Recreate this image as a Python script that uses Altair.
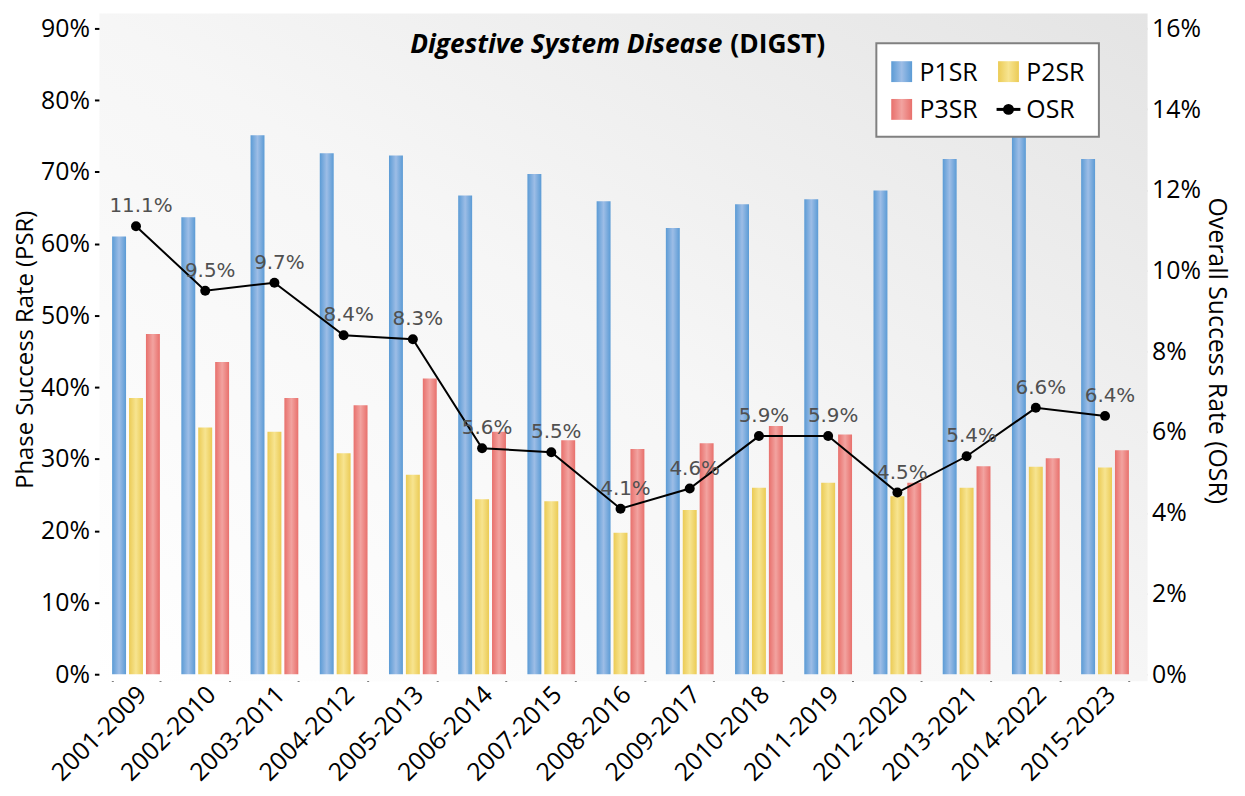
import altair as alt
import pandas as pd

periods = ["2001-2009", "2002-2010", "2003-2011", "2004-2012", "2005-2013",
           "2006-2014", "2007-2015", "2008-2016", "2009-2017", "2010-2018",
           "2011-2019", "2012-2020", "2013-2021", "2014-2022", "2015-2023"]
p1sr = [61.0, 63.7, 75.1, 72.6, 72.3, 66.7, 69.7, 65.9, 62.2, 65.5, 66.2, 67.4, 71.8, 75.5, 71.8]
p2sr = [38.5, 34.4, 33.8, 30.8, 27.8, 24.4, 24.1, 19.7, 22.9, 26.0, 26.7, 24.8, 26.0, 28.9, 28.8]
p3sr = [47.4, 43.5, 38.5, 37.5, 41.2, 33.8, 32.6, 31.4, 32.2, 34.6, 33.4, 26.7, 29.0, 30.1, 31.2]
osr = [11.1, 9.5, 9.7, 8.4, 8.3, 5.6, 5.5, 4.1, 4.6, 5.9, 5.9, 4.5, 5.4, 6.6, 6.4]
series = ["P1SR", "P2SR", "P3SR"]
legend_labels = ["P1SR", "P2SR", "P3SR", "OSR"]
psr_ticks = [0, 10, 20, 30, 40, 50, 60, 70, 80, 90]
osr_ticks = [0, 2, 4, 6, 8, 10, 12, 14, 16]

PAD_TOP = 18
OX, OY = 102, 8 + PAD_TOP          # absolute position of the plot origin
W, H = 1045, 676 - OY
FONT = "Open Sans"

bar_df = pd.DataFrame({
    "period": periods * 3,
    "series": [s for s in series for _ in periods],
    "value": p1sr + p2sr + p3sr,
})
osr_df = pd.DataFrame({"period": periods, "osr": osr,
                       "label": [f"{v:.1f}%" for v in osr]})


def grad(dark, light):
    return alt.Gradient(gradient="linear", x1=0, x2=1, y1=0, y2=0,
                        stops=[alt.GradientStop(color=dark, offset=0),
                               alt.GradientStop(color=light, offset=0.5),
                               alt.GradientStop(color=dark, offset=1)])


fills = {
    "P1SR": grad("#5b9bd5", "#9dbde6"),
    "P2SR": grad("#ebcb55", "#f7e490"),
    "P3SR": grad("#e8706c", "#f2a3a0"),
}

x_enc = alt.X("period:N", sort=periods,
              scale=alt.Scale(paddingInner=0.31, paddingOuter=0.155),
              axis=alt.Axis(title=None, labelAngle=-45, labelAlign="right",
                            labelBaseline="middle", tickBand="extent",
                            labelOffset=6, labelPadding=9, labelFontSize=25))

bar_layers = []
for s in series:
    bar_layers.append(
        alt.Chart(bar_df).transform_filter(alt.datum.series == s).mark_bar(
            fill=fills[s]
        ).encode(
            x=x_enc,
            xOffset=alt.XOffset("series:N", scale=alt.Scale(domain=series, paddingInner=0.176, paddingOuter=0)),
            y=alt.Y("value:Q", scale=alt.Scale(domain=[0, 90], nice=False),
                    axis=alt.Axis(values=psr_ticks, labelExpr="datum.value + '%'",
                                  title="Phase Success Rate (PSR)", grid=False,
                                  labelPadding=5, titleX=-76, titleY=H / 2 - 2,
                                  titleBaseline="middle", titleAngle=270,
                                  titleFontSize=24)),
        )
    )
bars = alt.layer(*bar_layers)

y_osr = alt.Y("osr:Q", scale=alt.Scale(domain=[0, 16], nice=False),
              axis=alt.Axis(orient="right", values=osr_ticks,
                            labelExpr="datum.value + '%'", labelPadding=5,
                            title="Overall Success Rate (OSR)", titleAngle=90,
                            titleX=77, titleY=H / 2 - 1, titleBaseline="middle",
                            grid=False))
line_base = alt.Chart(osr_df).encode(x=x_enc, y=y_osr)
line = line_base.mark_line(color="black", strokeWidth=2)
pts = line_base.mark_circle(color="black", size=100, opacity=1)
lbl = line_base.mark_text(dy=-14, dx=5, baseline="alphabetic", font="DejaVu Sans",
                          fontSize=20, color="#505050").encode(text="label:N")
osr_layer = alt.layer(line, pts, lbl)

one = pd.DataFrame({"a": [0]})
bg = alt.Chart(one).mark_rect(
    fill=alt.Gradient(gradient="linear", x1=0, x2=1, y1=1, y2=0,
                      stops=[alt.GradientStop(color="#ffffff", offset=0),
                             alt.GradientStop(color="#f6f6f6", offset=0.5),
                             alt.GradientStop(color="#e4e4e4", offset=1)])
).encode(x=alt.value(-2), x2=alt.value(W + 8), y=alt.value(11 - OY), y2=alt.value(H + 7))

title1 = alt.Chart(one).mark_text(
    text="Digestive System Disease", font=FONT, fontSize=26.5, fontWeight="bold",
    fontStyle="italic", align="right", baseline="alphabetic", color="black"
).encode(x=alt.value(727 - OX), y=alt.value(51 - OY))
title2 = alt.Chart(one).mark_text(
    text="(DIGST)", font=FONT, fontSize=26.5, fontWeight="bold",
    align="left", baseline="alphabetic", color="black"
).encode(x=alt.value(735 - OX), y=alt.value(51 - OY))

# legend (manual, mixed symbol types); coordinates relative to plot origin
LX0, LY0, LX1, LY1 = 882 - OX, 41 - OY, 1106 - OX, 135 - OY
col_x = [907.5 - OX, 1015 - OX]
row_y = [69.5 - OY, 107.5 - OY]
leg = [alt.Chart(one).mark_rect(fill="white", stroke="#808080", strokeWidth=2).encode(
    x=alt.value(LX0), x2=alt.value(LX1), y=alt.value(LY0), y2=alt.value(LY1))]
for i, name in enumerate(legend_labels):
    cx, cy = col_x[i % 2], row_y[i // 2]
    if name in fills:
        leg.append(alt.Chart(one).mark_rect(fill=fills[name]).encode(
            x=alt.value(cx - 10.5), x2=alt.value(cx + 10.5),
            y=alt.value(cy - 10.5), y2=alt.value(cy + 10.5)))
    else:
        leg.append(alt.Chart(one).mark_rule(color="black", strokeWidth=3).encode(
            x=alt.value(cx - 12), x2=alt.value(cx + 12), y=alt.value(cy)))
        leg.append(alt.Chart(one).mark_circle(color="black", size=120, opacity=1).encode(
            x=alt.value(cx), y=alt.value(cy)))
    leg.append(alt.Chart(one).mark_text(
        text=name, font=FONT, fontSize=25, align="left", baseline="middle", color="black"
    ).encode(x=alt.value(cx + 18), y=alt.value(cy + 1)))

chart = alt.layer(bg, bars, osr_layer, title1, title2, *leg).resolve_scale(
    y="independent"
).properties(
    width=W, height=H,
    autosize=alt.AutoSizeParams(type="none"),
    padding={"left": 94, "top": PAD_TOP, "right": 98, "bottom": 118},
).configure_view(stroke=None).configure_axis(
    domainColor="black", domainWidth=2, tickColor="black", tickWidth=2, tickSize=7,
    labelColor="black", labelFont=FONT, labelFontSize=25,
    titleFont=FONT, titleFontSize=25, titleFontWeight="normal", titleColor="black",
)

chart.save("out.html", embed_options={"renderer": "svg", "actions": False})
